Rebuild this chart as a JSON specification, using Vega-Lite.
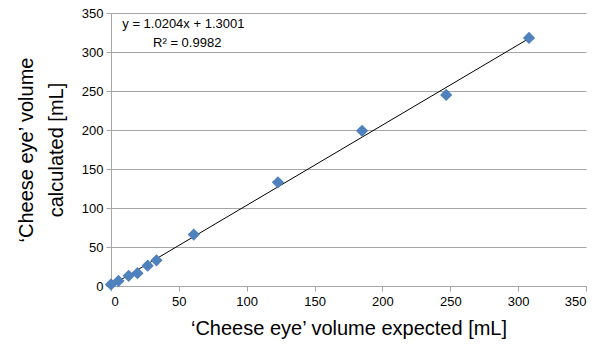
{
  "$schema": "https://vega.github.io/schema/vega-lite/v6.json",
  "width": 475,
  "height": 273,
  "autosize": {"type": "none"},
  "padding": {"left": 111, "top": 13, "right": 18, "bottom": 61},
  "background": "white",
  "config": {
    "view": {"stroke": null},
    "font": "Liberation Sans",
    "axis": {
      "labelFont": "Liberation Sans",
      "titleFont": "Liberation Sans",
      "labelFontSize": 13,
      "labelColor": "#000000",
      "titleColor": "#000000",
      "titleFontSize": 20,
      "titleFontWeight": "normal",
      "domainColor": "#A6A6A6",
      "tickColor": "#A6A6A6",
      "gridColor": "#A6A6A6",
      "tickSize": 5,
      "labelOverlap": false
    }
  },
  "datasets": {
    "pts": [
      {"expected": 0, "calculated": 2},
      {"expected": 5.5, "calculated": 6.5},
      {"expected": 13, "calculated": 13},
      {"expected": 19.5, "calculated": 16.5},
      {"expected": 27, "calculated": 26},
      {"expected": 33.5, "calculated": 33},
      {"expected": 61, "calculated": 66},
      {"expected": 123, "calculated": 133},
      {"expected": 185, "calculated": 199},
      {"expected": 247, "calculated": 245},
      {"expected": 308, "calculated": 318}
    ],
    "labels": [
      {"expected": 8.3, "calculated": 336, "t": "y = 1.0204x + 1.3001"},
      {"expected": 31, "calculated": 311.5, "t": "R² = 0.9982"}
    ]
  },
  "encoding": {
    "x": {"field": "expected", "type": "quantitative", "scale": {"domain": [0, 350]},
      "axis": {"values": [0, 50, 100, 150, 200, 250, 300, 350], "grid": false, "title": "‘Cheese eye’ volume expected [mL]", "labelPadding": 4, "titlePadding": 10}},
    "y": {"field": "calculated", "type": "quantitative", "scale": {"domain": [0, 350]},
      "axis": {"values": [0, 50, 100, 150, 200, 250, 300, 350], "grid": true, "title": ["‘Cheese eye’ volume", "calculated [mL]"], "titleLineHeight": 30, "labelPadding": 3, "titlePadding": 15}}
  },
  "layer": [
    {
      "data": {"name": "pts"},
      "transform": [{"regression": "calculated", "on": "expected", "extent": [0, 308]}],
      "mark": {"type": "line", "color": "#000000", "strokeWidth": 1}
    },
    {
      "data": {"name": "pts"},
      "mark": {"type": "point", "shape": "diamond", "filled": true, "color": "#4F81BD", "opacity": 1, "size": 150}
    },
    {
      "data": {"name": "labels"},
      "mark": {"type": "text", "align": "left", "baseline": "middle", "fontSize": 13, "color": "#000000", "font": "Liberation Sans"},
      "encoding": {
        "text": {"field": "t"}
      }
    }
  ]
}
